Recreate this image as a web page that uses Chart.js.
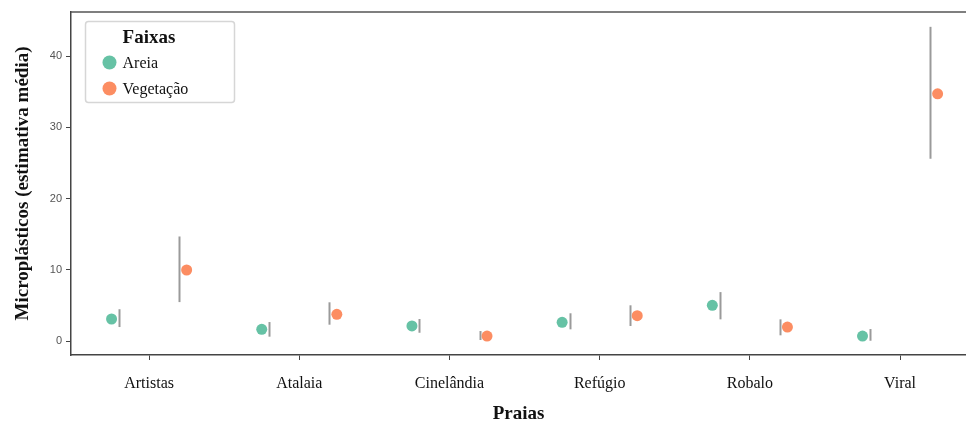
<!DOCTYPE html>
<html>
<head>
<meta charset="utf-8">
<script src="https://cdn.jsdelivr.net/npm/chart.js@4.4.0/dist/chart.umd.min.js"></script>
<style>
  html, body { margin: 0; padding: 0; background: #fff; }
  #wrap { width: 966px; height: 422px; position: relative; }
</style>
</head>
<body>
<div id="wrap"><canvas id="chart"></canvas></div>
<script>
const BEACHES = ["Artistas", "Atalaia", "Cinelândia", "Refúgio", "Robalo", "Viral"];
const Y_TICKS = [0, 10, 20, 30, 40];

const AREIA_MEAN = [3.13, 1.68, 2.15, 2.66, 5.05, 0.74];
const AREIA_LOW = [2.0, 0.65, 1.2, 1.68, 3.08, 0.08];
const AREIA_HIGH = [4.5, 2.7, 3.13, 3.93, 6.9, 1.72];

const VEG_MEAN = [10.0, 3.78, 0.74, 3.59, 2.0, 34.7];
const VEG_LOW = [5.5, 2.33, 0.18, 2.15, 0.84, 25.6];
const VEG_HIGH = [14.7, 5.47, 1.44, 5.05, 3.08, 44.1];

const GREEN = "#66c2a5";
const ORANGE = "#fc8d62";
const SERIF = "'Liberation Serif', 'Times New Roman', serif";

// dodge: points sit further out than their error bars
const POINT_DODGE = 0.25;
const BAR_DODGE = 0.2;

function pts(values, off) {
  return values.map((v, i) => ({ x: i + off, y: v }));
}

const errorBars = {
  id: "errorBars",
  beforeDatasetsDraw(chart) {
    const { ctx, scales: { x, y } } = chart;
    const groups = [
      { low: AREIA_LOW, high: AREIA_HIGH, off: -BAR_DODGE },
      { low: VEG_LOW, high: VEG_HIGH, off: BAR_DODGE },
    ];
    ctx.save();
    ctx.strokeStyle = "#9a9a9a";
    ctx.lineWidth = 2;
    groups.forEach((g) => {
      g.low.forEach((lo, i) => {
        const px = Math.round(x.getPixelForValue(i + g.off)) + 0.5;
        ctx.beginPath();
        ctx.moveTo(px, y.getPixelForValue(lo));
        ctx.lineTo(px, y.getPixelForValue(g.high[i]));
        ctx.stroke();
      });
    });
    ctx.restore();
  },
};

const frameAndLegend = {
  id: "frameAndLegend",
  afterDraw(chart) {
    const { ctx, chartArea: a } = chart;
    ctx.save();
    // top spine
    ctx.strokeStyle = "#555";
    ctx.lineWidth = 1.5;
    ctx.beginPath();
    ctx.moveTo(a.left, a.top);
    ctx.lineTo(a.right, a.top);
    ctx.stroke();

    // legend box
    const bx = a.left + 14.5, by = a.top + 9.5, bw = 149, bh = 81;
    ctx.fillStyle = "rgba(255,255,255,0.85)";
    ctx.strokeStyle = "#d6d6d6";
    ctx.lineWidth = 1.5;
    ctx.beginPath();
    ctx.roundRect(bx, by, bw, bh, 3);
    ctx.fill();
    ctx.stroke();

    ctx.fillStyle = "#111";
    ctx.textBaseline = "middle";
    ctx.textAlign = "center";
    ctx.font = "bold 19px " + SERIF;
    ctx.fillText("Faixas", bx + 63.5, by + 16.5);

    ctx.textAlign = "left";
    ctx.font = "16px " + SERIF;
    chart.data.datasets.forEach((ds, i) => {
      const cy = by + 41 + i * 26;
      ctx.fillStyle = ds.backgroundColor;
      ctx.beginPath();
      ctx.arc(bx + 24, cy, 7, 0, Math.PI * 2);
      ctx.fill();
      ctx.fillStyle = "#111";
      ctx.fillText(ds.label, bx + 37, cy + 1);
    });
    ctx.restore();
  },
};

new Chart(document.getElementById("chart"), {
  type: "scatter",
  data: {
    datasets: [
      {
        label: "Areia",
        data: pts(AREIA_MEAN, -POINT_DODGE),
        backgroundColor: GREEN,
        borderWidth: 0,
        pointRadius: 5.5,
      },
      {
        label: "Vegetação",
        data: pts(VEG_MEAN, POINT_DODGE),
        backgroundColor: ORANGE,
        borderWidth: 0,
        pointRadius: 5.5,
      },
    ],
  },
  options: {
    responsive: true,
    maintainAspectRatio: false,
    animation: false,
    layout: { autoPadding: false, padding: { top: 12, left: 0, right: 0, bottom: 0 } },
    plugins: {
      legend: { display: false },
      tooltip: { enabled: false },
    },
    scales: {
      x: {
        type: "linear",
        min: -0.52,
        max: 5.439,
        afterFit: (s) => { s.height = 67; },
        afterBuildTicks: (s) => { s.ticks = BEACHES.map((_, i) => ({ value: i })); },
        ticks: {
          autoSkip: false,
          maxRotation: 0,
          padding: 14,
          color: "#111",
          font: { family: SERIF, size: 16 },
          callback: (v) => BEACHES[v],
        },
        grid: { display: true, drawOnChartArea: false, drawTicks: true, tickLength: 5, color: "#444" },
        border: { display: true, color: "#444", width: 1.5 },
        title: {
          display: true,
          text: "Praias",
          color: "#111",
          font: { family: SERIF, size: 19, weight: "bold" },
          padding: { top: 0, bottom: -3 },
        },
      },
      y: {
        min: -1.92,
        max: 46.18,
        afterFit: (s) => { s.width = 71; },
        afterBuildTicks: (s) => { s.ticks = Y_TICKS.map((v) => ({ value: v })); },
        ticks: {
          padding: 4,
          color: "#555",
          font: { family: "'Liberation Sans', Arial, sans-serif", size: 11 },
        },
        grid: { display: true, drawOnChartArea: false, drawTicks: true, tickLength: 5, color: "#444" },
        border: { display: true, color: "#444", width: 1.5 },
        title: {
          display: true,
          text: "Microplásticos (estimativa média)",
          color: "#111",
          font: { family: SERIF, size: 19, weight: "bold" },
          padding: { top: 12, bottom: 0 },
        },
      },
    },
  },
  plugins: [errorBars, frameAndLegend],
});
</script>
</body>
</html>
